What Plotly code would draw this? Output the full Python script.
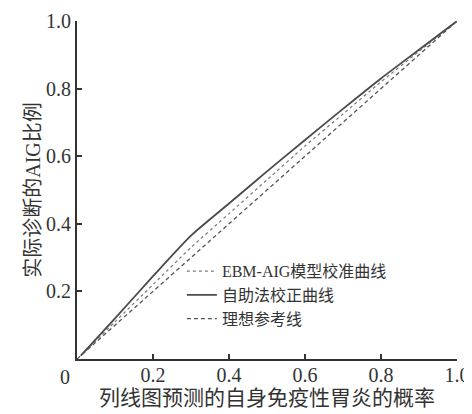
import plotly.graph_objects as go

# Data
x_vals = [0.01, 0.1, 0.2, 0.3, 0.4, 0.5, 0.6, 0.7, 0.8, 0.9, 1.0]
ebm_aig_y = [0.01, 0.11, 0.22, 0.33, 0.43, 0.53, 0.63, 0.725, 0.82, 0.91, 1.0]
bootstrap_y = [0.01, 0.12, 0.245, 0.365, 0.46, 0.555, 0.648, 0.74, 0.83, 0.915, 1.0]
ideal_x = [0.0, 1.0]
ideal_y = [0.0, 1.0]

series_names = ["EBM-AIG模型校准曲线", "自助法校正曲线", "理想参考线"]
tick_vals = [0, 0.2, 0.4, 0.6, 0.8, 1.0]
x_tick_text = ["", "0.2", "0.4", "0.6", "0.8", "1.0"]
y_tick_text = ["", "0.2", "0.4", "0.6", "0.8", "1.0"]
x_title = "列线图预测的自身免疫性胃炎的概率"
y_title = "实际诊断的AIG比例"

FONT = "Liberation Serif, Noto Sans CJK SC, serif"

fig = go.Figure()
fig.add_trace(go.Scatter(x=x_vals, y=ebm_aig_y, mode="lines", name=series_names[0],
                         line=dict(color="#7a7a7a", width=1.2, dash="dot", shape="spline", smoothing=0.6)))
fig.add_trace(go.Scatter(x=x_vals, y=bootstrap_y, mode="lines", name=series_names[1],
                         line=dict(color="#4a4a4a", width=1.8, dash="solid", shape="spline", smoothing=0.6)))
fig.add_trace(go.Scatter(x=ideal_x, y=ideal_y, mode="lines", name=series_names[2],
                         line=dict(color="#555555", width=1.3, dash="4px,3px")))

axis_common = dict(
    range=[0, 1], tickvals=tick_vals, ticks="inside", ticklen=5, tickwidth=1.5,
    tickcolor="#333", showline=True, linecolor="#333", linewidth=2,
    showgrid=False, zeroline=False, tickfont=dict(family=FONT, size=20, color="#333"),
    fixedrange=True, automargin=False,
)

# page body has an 8px default margin, so the figure is 464x406
fig.update_layout(
    width=464, height=406,
    margin=dict(l=69, r=15, t=13, b=55),
    paper_bgcolor="white", plot_bgcolor="white",
    font=dict(family=FONT, color="#333"),
    xaxis=dict(**axis_common, ticktext=x_tick_text, ticklabelstandoff=-3,
               title=dict(text=x_title, font=dict(family=FONT, size=21, color="#333"), standoff=4)),
    yaxis=dict(**axis_common, ticktext=y_tick_text,
               title=dict(text=y_title, font=dict(family=FONT, size=20, color="#333"), standoff=0)),
    legend=dict(x=0.276, y=0.31, xanchor="left", yanchor="top",
                bgcolor="rgba(0,0,0,0)", font=dict(family=FONT, size=16, color="#333"),
                itemwidth=30, tracegroupgap=0),
    showlegend=True,
    annotations=[dict(text="0", x=0, y=0, xref="paper", yref="paper", showarrow=False,
                      xanchor="center", yanchor="middle",
                      xshift=-12, yshift=-18, font=dict(family=FONT, size=20, color="#333"))],
)

fig.write_html("out.html")
